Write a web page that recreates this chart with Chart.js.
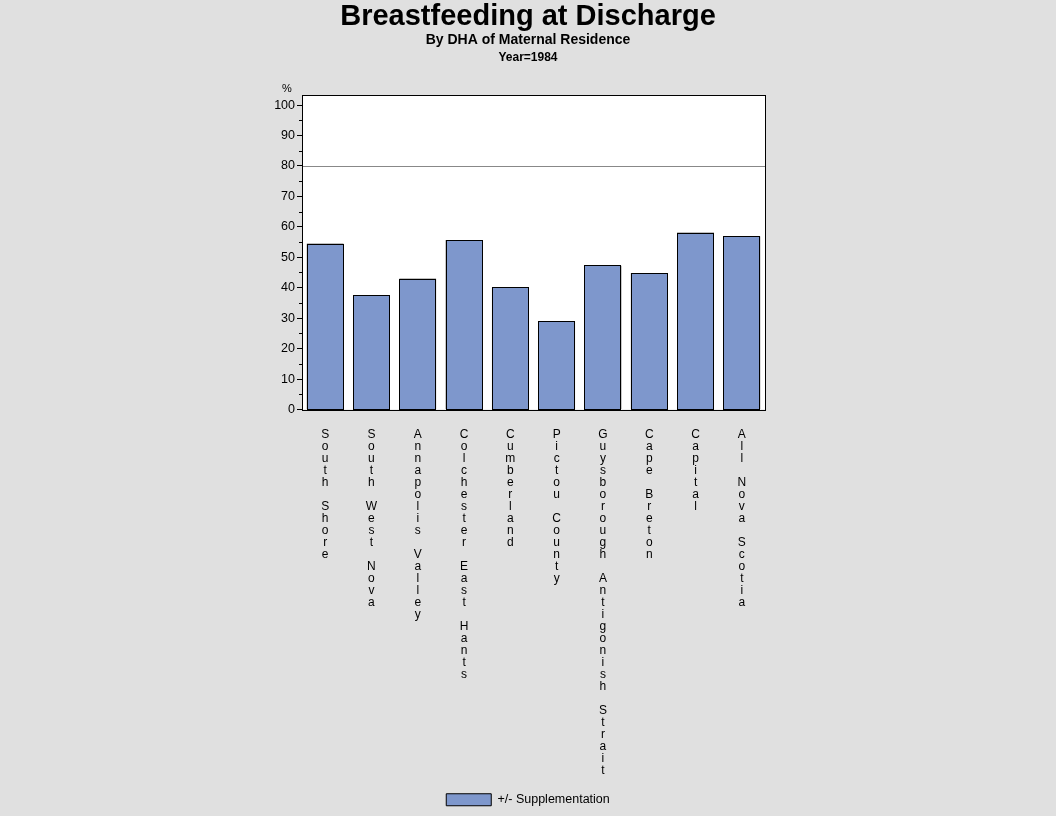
<!DOCTYPE html>
<html>
<head>
<meta charset="utf-8">
<script src="https://cdn.jsdelivr.net/npm/chart.js@4/dist/chart.umd.min.js"></script>
<style>
  html, body { margin: 0; padding: 0; background: #E0E0E0; }
  #wrap { width: 1056px; height: 816px; }
</style>
</head>
<body>
<div id="wrap"><canvas id="dischargeChart" width="1056" height="816"></canvas></div>
<script>
// ---- data ----
const regions = [
  'South Shore', 'South West Nova', 'Annapolis Valley', 'Colchester East Hants',
  'Cumberland', 'Pictou County', 'Guysborough Antigonish Strait', 'Cape Breton',
  'Capital', 'All Nova Scotia'
];
const breastfeedingPct = [54.5, 37.5, 43.0, 55.7, 40.1, 29.0, 47.3, 44.8, 58.1, 56.9];
const seriesLabel = '+/- Supplementation';
const titleLines = ['Breastfeeding at Discharge', 'By DHA of Maternal Residence', 'Year=1984'];
const yAxisLabel = '%';
const yMin = 0;
const yMax = 103.3;
const yMajorStep = 10;
const yMinorStep = 5;
const referenceLevel = 80;

const FONT = '"Liberation Sans", Arial, Helvetica, sans-serif';
const BAR_FILL = '#7E97CC';

// letters stacked one per line, like the SAS output
const stackedLabels = regions.map(name => name.split(''));

// headings, % label, minor ticks, frame, crisp bar outlines and the 80% line
const decorPlugin = {
  id: 'decor',
  afterLayout(chart) {
    // centre the legend on the page rather than on the padded area
    const lg = chart.legend;
    if (lg) {
      const shift = chart.width / 2 - (lg.left + lg.right) / 2;
      lg.left += shift;
      lg.right += shift;
    }
  },
  beforeDraw(chart) {
    const { ctx, chartArea: a } = chart;
    ctx.save();
    ctx.fillStyle = '#E0E0E0';
    ctx.fillRect(0, 0, chart.width, chart.height);
    ctx.fillStyle = '#FFFFFF';
    ctx.fillRect(a.left, a.top, a.right - a.left, a.bottom - a.top);

    const cx = chart.width / 2;
    ctx.fillStyle = '#000';
    ctx.textAlign = 'center';
    ctx.textBaseline = 'middle';
    ctx.font = 'bold 29px ' + FONT;
    ctx.fillText(titleLines[0], cx, 17);
    ctx.font = 'bold 14px ' + FONT;
    ctx.fillText(titleLines[1], cx, 40.5);
    ctx.font = 'bold 12px ' + FONT;
    ctx.fillText(titleLines[2], cx, 57.5);

    ctx.font = '11px ' + FONT;
    ctx.fillText(yAxisLabel, a.left - 15, a.top - 6);
    ctx.restore();
  },
  beforeDatasetsDraw(chart) {
    const { ctx, chartArea: a } = chart;
    const y = Math.round(chart.scales.y.getPixelForValue(referenceLevel)) + 0.5;
    ctx.save();
    ctx.strokeStyle = '#888888';
    ctx.lineWidth = 1;
    ctx.beginPath();
    ctx.moveTo(a.left, y);
    ctx.lineTo(a.right, y);
    ctx.stroke();
    ctx.restore();
  },
  afterDatasetsDraw(chart) {
    const { ctx, chartArea: a } = chart;
    const ys = chart.scales.y;
    ctx.save();
    ctx.lineWidth = 1;

    // bars redrawn on the pixel grid from the library's own bar elements
    chart.getDatasetMeta(0).data.forEach(bar => {
      const p = bar.getProps(['x', 'y', 'base', 'width']);
      const l = Math.round(p.x - p.width / 2);
      const r = Math.round(p.x + p.width / 2);
      const t = Math.round(p.y);
      const b = Math.round(p.base);
      ctx.fillStyle = BAR_FILL;
      ctx.fillRect(l, t, r - l, b - t);
      ctx.strokeStyle = '#000';
      ctx.strokeRect(l + 0.5, t + 0.5, r - l - 1, b - t);
    });

    ctx.strokeStyle = '#000';
    // minor ticks
    ctx.beginPath();
    for (let v = yMinorStep; v < yMax; v += yMajorStep) {
      const py = Math.round(ys.getPixelForValue(v)) + 0.5;
      ctx.moveTo(a.left - 3, py);
      ctx.lineTo(a.left, py);
    }
    ctx.stroke();
    // frame
    ctx.strokeRect(Math.round(a.left) + 0.5, Math.round(a.top) + 0.5,
      Math.round(a.right - a.left), Math.round(a.bottom - a.top));
    ctx.restore();
  }
};

new Chart(document.getElementById('dischargeChart'), {
  type: 'bar',
  data: {
    labels: stackedLabels,
    datasets: [{
      label: seriesLabel,
      data: breastfeedingPct,
      backgroundColor: BAR_FILL,
      borderColor: '#000000',
      borderWidth: 1,
      borderSkipped: false,
      barPercentage: 0.8,
      categoryPercentage: 1.0
    }]
  },
  options: {
    responsive: false,
    animation: false,
    devicePixelRatio: 1,
    layout: { padding: { left: 262, right: 291, top: 95, bottom: 0 } },
    plugins: {
      title: { display: false },
      tooltip: { enabled: false },
      legend: {
        position: 'bottom',
        labels: {
          boxWidth: 45,
          boxHeight: 12,
          color: '#000',
          padding: 10,
          font: { family: FONT, size: 12.5 }
        }
      }
    },
    scales: {
      x: {
        grid: { display: false, drawTicks: false },
        border: { display: false },
        ticks: {
          autoSkip: false,
          maxRotation: 0,
          minRotation: 0,
          padding: 19,
          color: '#000',
          font: { family: FONT, size: 12, lineHeight: '12px' }
        },
        afterFit(scale) { scale.height = 374; }
      },
      y: {
        min: yMin,
        max: yMax,
        grid: {
          drawOnChartArea: false,
          drawTicks: true,
          tickLength: 5,
          tickColor: '#000'
        },
        border: { display: false },
        ticks: {
          stepSize: yMajorStep,
          includeBounds: false,
          padding: 2,
          color: '#000',
          font: { family: FONT, size: 12.5 }
        },
        afterFit(scale) { scale.width = 40; }
      }
    }
  },
  plugins: [decorPlugin]
});
</script>
</body>
</html>
